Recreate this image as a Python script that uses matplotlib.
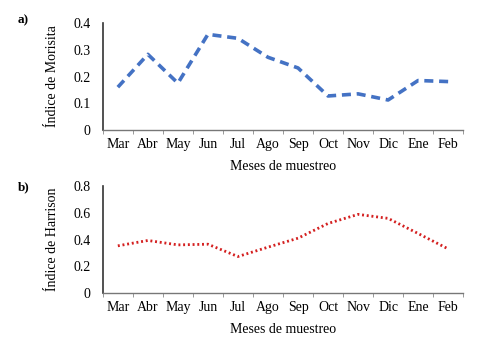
import matplotlib
matplotlib.use("Agg")
import matplotlib.pyplot as plt
import numpy as np

months = ["Mar", "Abr", "May", "Jun", "Jul", "Ago", "Sep", "Oct", "Nov", "Dic", "Ene", "Feb"]
morisita = [0.16, 0.283, 0.175, 0.358, 0.343, 0.272, 0.232, 0.127, 0.135, 0.112, 0.185, 0.181]
harrison = [0.353, 0.393, 0.360, 0.365, 0.273, 0.343, 0.410, 0.520, 0.588, 0.558, 0.445, 0.330]

plt.rcParams['font.family'] = ['Liberation Serif', 'DejaVu Serif']
fig = plt.figure(figsize=(4.85, 3.4), dpi=100)

ax1 = fig.add_axes([0.212, 0.618, 0.743, 0.314])
ax2 = fig.add_axes([0.212, 0.138, 0.743, 0.315])

x = np.arange(len(months))

def style(ax, ylim, yticks, yticklabels, ylabel):
    ax.set_xlim(-0.5, len(months) - 0.5)
    ax.set_ylim(*ylim)
    ax.set_yticks(yticks)
    ax.set_yticklabels(yticklabels, fontsize=10)
    ax.set_xticks(x)
    ax.set_xticklabels(months, fontsize=10)
    ax.set_xticks(np.arange(-0.5, len(months) + 0.5, 1), minor=True)
    ax.tick_params(axis='x', which='major', length=0, pad=6)
    ax.tick_params(axis='x', which='minor', length=3, color='#888888', direction='out')
    ax.tick_params(axis='y', which='major', length=0, pad=9)
    for s in ['top', 'right']:
        ax.spines[s].set_visible(False)
    ax.spines['left'].set_color('#333333')
    ax.spines['bottom'].set_color('#777777')
    ax.spines['left'].set_linewidth(1.2)
    ax.spines['bottom'].set_linewidth(1.0)
    ax.set_ylabel(ylabel, fontsize=10, labelpad=10)
    ax.set_xlabel("Meses de muestreo", fontsize=10, labelpad=6)

ax1.plot(x, morisita, color='#4472C4', lw=2.6, linestyle=(0, (2.5, 1.6)))
style(ax1, (0, 0.4), [0, 0.1, 0.2, 0.3, 0.4], ["0", "0.1", "0.2", "0.3", "0.4"], "Índice de Morisita")

ax2.plot(x, harrison, color='#D42020', lw=2.0, linestyle=(0, (0.7, 1.0)))
style(ax2, (0, 0.8), [0, 0.2, 0.4, 0.6, 0.8], ["0", "0.2", "0.4", "0.6", "0.8"], "Índice de Harrison")

fig.text(0.036, 0.941, "a)", fontsize=9.5, fontweight='bold', va='center')
fig.text(0.036, 0.450, "b)", fontsize=9.5, fontweight='bold', va='center')

fig.savefig("out.png", dpi=100)
